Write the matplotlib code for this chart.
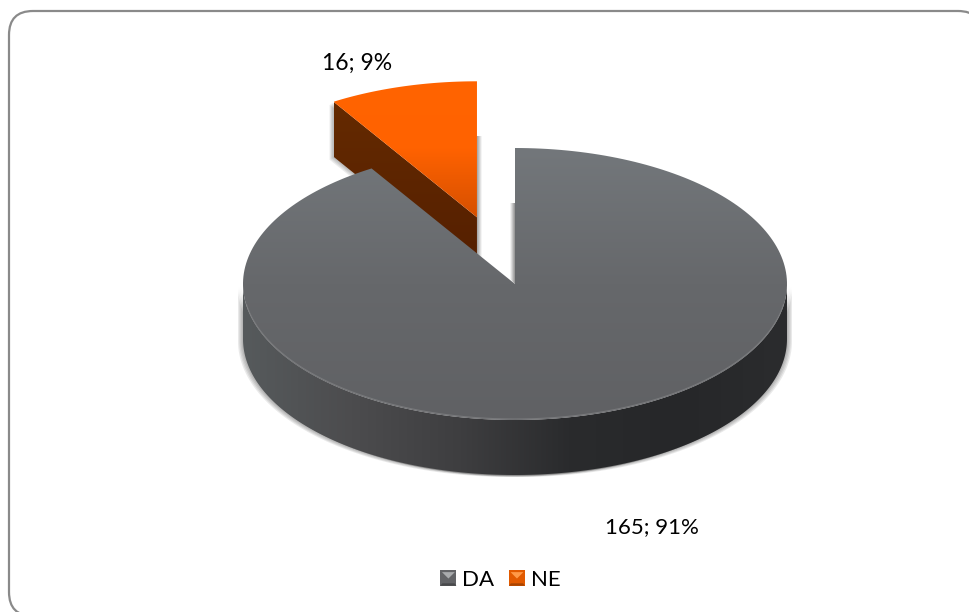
import numpy as np
import matplotlib
matplotlib.use("Agg")
import matplotlib.pyplot as plt
from matplotlib.patches import Polygon, FancyBboxPatch, Patch
from matplotlib.colors import LinearSegmentedColormap
from matplotlib.legend_handler import HandlerPatch

categories = ["DA", "NE"]
values = [165, 16]
labels = ["165; 91%", "16; 9%"]

plt.rcParams['font.family'] = ['Lato', 'DejaVu Sans']

W, H = 969, 612
CX, CY, RX, RY, DEPTH = 515, 284, 272, 136, 55
EXPLODE = 0.51

fig = plt.figure(figsize=(W / 100, H / 100), dpi=100)
ax = fig.add_axes([0, 0, 1, 1])
ax.set_xlim(0, W)
ax.set_ylim(H, 0)
ax.axis("off")

ax.add_patch(FancyBboxPatch((33, 35), 925, 557, boxstyle="round,pad=24,rounding_size=24",
                            fc="white", ec="#8a8a8a", lw=1.6, zorder=0))

# angles: clockwise from 12 o'clock, in radians
total = sum(values)
a_da0, a_da1 = 0, 2 * np.pi * values[0] / total
a_ne0, a_ne1 = a_da1, 2 * np.pi
mid_ne = (a_ne0 + a_ne1) / 2
ox = CX + EXPLODE * RX * np.sin(mid_ne)
oy = CY - EXPLODE * RY * np.cos(mid_ne)


def arc(a0, a1, cx, cy, n=240):
    t = np.linspace(a0, a1, n)
    return np.column_stack([cx + RX * np.sin(t), cy - RY * np.cos(t)])


def grad(verts, colors, vertical, z):
    verts = np.asarray(verts)
    x0, x1, y0, y1 = verts[:, 0].min(), verts[:, 0].max(), verts[:, 1].min(), verts[:, 1].max()
    cmap = LinearSegmentedColormap.from_list("g", colors)
    g = np.linspace(0, 1, 256)
    data = g[:, None] if vertical else g[None, :]
    im = ax.imshow(data, extent=[x0, x1, y1, y0], cmap=cmap, aspect="auto", zorder=z,
                   interpolation="bilinear", vmin=0, vmax=1)
    poly = Polygon(verts, closed=True, transform=ax.transData, fc="none", ec="none")
    ax.add_patch(poly)
    im.set_clip_path(poly)
    ax.set_xlim(0, W)
    ax.set_ylim(H, 0)
    return im


def shadow(verts, dx, dy, z, alpha=0.10, steps=4):
    verts = np.asarray(verts)
    for i in range(1, steps + 1):
        ax.add_patch(Polygon(verts + [dx * i / steps, dy * i / steps], closed=True,
                             fc="#303030", ec="none", alpha=alpha, zorder=z))


# main wedge outline
da_top = np.vstack([[CX, CY], arc(a_da0, a_da1, CX, CY)])
front = arc(np.pi / 2, 3 * np.pi / 2, CX, CY)
da_side = np.vstack([front, front[::-1] + [0, DEPTH]])

# exploded wedge outline
ne_top = np.vstack([[ox, oy], arc(a_ne0, a_ne1, ox, oy, 80)])
corner = arc(a_ne0, a_ne0, ox, oy, 1)[0]
ne_side = np.array([[ox, oy], corner, corner + [0, DEPTH], [ox, oy + DEPTH]])

# soft shadows
shadow(da_side, -5, 2, 1)
shadow(da_side, 5, 2, 1)
grad([[ox, 136], [ox + 5, 136], [ox + 5, oy + DEPTH], [ox, oy + DEPTH]],
     ["#a0a0a0", "#ffffff"], False, 1)
shadow(ne_side, -4, 3, 1, alpha=0.09)

# exploded slice
grad(ne_side, ["#652a00", "#541f00"], True, 2)
grad(ne_top, ["#ff6400", "#ff6200", "#d65000"], True, 3)

# shadow on the cut of the main disc
grad([[CX - 5, 203], [CX, 203], [CX, CY], [CX - 5, CY - 5]], ["#ffffff", "#8e8e8e"], False, 3.5)

# main slice
grad(da_side, ["#565a5c", "#4c4c4e", "#3e3e40", "#2a2b2d", "#262729", "#2b2c2e"], False, 4)
grad(da_top, ["#73777b", "#66686b", "#606164"], True, 5)
rim = arc(np.pi * 0.55, np.pi * 1.45, CX, CY - 1)
ax.plot(rim[:, 0], rim[:, 1], color="#8c8d8f", lw=0.8, alpha=0.55, zorder=6)

ax.text(652, 527, labels[0], ha="center", va="center", fontsize=16, color="black", zorder=7)
ax.text(357.5, 63, labels[1], ha="center", va="center", fontsize=16.5, color="black", zorder=7)


class BevelHandler(HandlerPatch):
    def __init__(self, shades):
        super().__init__()
        self.shades = shades

    def create_artists(self, legend, orig, xd, yd, width, height, fontsize, trans):
        s = width
        x0 = -xd
        y0 = -yd + (height - s) / 2
        c = (x0 + s / 2, y0 + s / 2)
        a, b, d, e = (x0, y0), (x0 + s, y0), (x0 + s, y0 + s), (x0, y0 + s)
        base = Polygon([a, b, d, e], closed=True, fc=self.shades[1], ec="none", transform=trans)
        low = Polygon([a, b, (x0 + s * 0.88, y0 + s * 0.15), (x0 + s * 0.12, y0 + s * 0.15)],
                      closed=True, fc=self.shades[0], ec="none", transform=trans)
        top = Polygon([(x0 + s * 0.1, y0 + s * 0.85), (x0 + s * 0.9, y0 + s * 0.85), (c[0], y0 + s * 0.45)],
                      closed=True, fc=self.shades[2], ec="none", transform=trans)
        return [base, low, top]


handles = [Patch(color="#65676a", label=categories[0]), Patch(color="#f06000", label=categories[1])]
leg = ax.legend(handles=handles, loc="center", bbox_to_anchor=(500.5 / W, 1 - 579.5 / H),
                ncol=2, frameon=False, fontsize=16, columnspacing=0.65, handletextpad=0.27,
                handlelength=0.72, handleheight=0.72, borderpad=0, labelcolor="black",
                handler_map={handles[0]: BevelHandler(["#48494b", "#636467", "#a9abad"]),
                             handles[1]: BevelHandler(["#a84400", "#e25a00", "#ff9a48"])})
leg.set_zorder(7)

fig.savefig("out.png", dpi=100)
